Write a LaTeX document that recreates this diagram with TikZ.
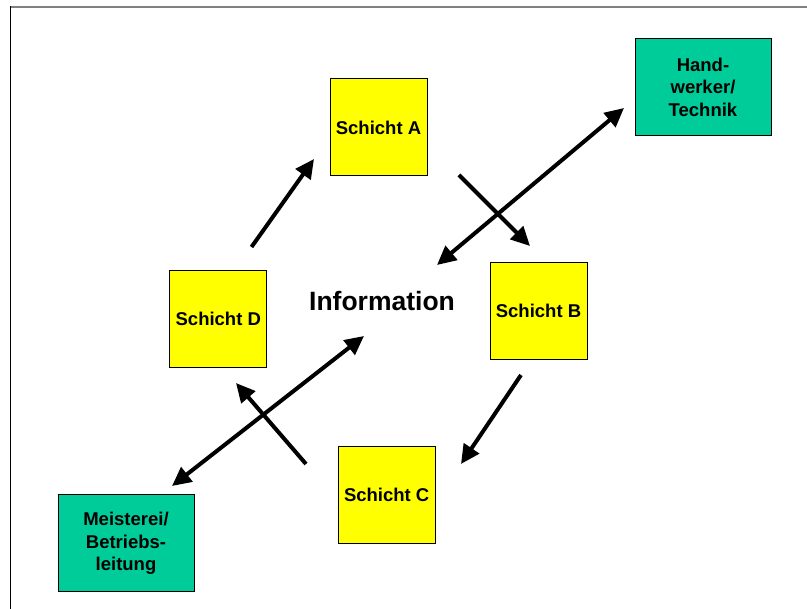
\documentclass[tikz,border=0pt]{standalone}
\usepackage{fontspec}
\setmainfont{Liberation Sans}
\usetikzlibrary{arrows.meta}
\definecolor{shiftyellow}{RGB}{255,255,0}
\definecolor{extgreen}{RGB}{0,204,153}
\tikzset{
  box/.style={draw=black, line width=1pt, inner sep=0pt, align=center,
    font=\fontsize{18.5}{22.5}\selectfont\bfseries},
  shiftbox/.style={box, fill=shiftyellow, minimum width=97pt, minimum height=97pt},
  extbox/.style={box, fill=extgreen, minimum width=136pt, minimum height=97pt},
  flow/.style={line width=4pt, -{Triangle[length=19pt,width=18pt]}},
  both/.style={line width=4pt, {Triangle[length=19pt,width=18pt]}-{Triangle[length=19pt,width=18pt]}}
}
\begin{document}
\begin{tikzpicture}[x=1pt,y=-1pt]
\useasboundingbox (0,0) rectangle (807,609);
\fill[white] (0,0) rectangle (807,609);
% frame
\draw[gray, line width=2pt] (10.5,7) -- (807,7);
\draw[black, line width=1.2pt] (10.5,6) -- (10.5,609);
% boxes
\node[shiftbox] (A) at (378.5,127.5) {Schicht A};
\node[shiftbox] (B) at (538.5,311) {Schicht B};
\node[shiftbox] (C) at (386.7,495.3) {Schicht C};
\node[shiftbox] (D) at (218.3,319.3) {Schicht D};
\node[extbox] (H) at (703,87) {Hand-\\werker/\\Technik};
\node[extbox] (M) at (126,543.5) {Meisterei/\\Betriebs-\\leitung};
\node[font=\fontsize{26.5}{30}\selectfont\bfseries, inner sep=0pt] (I) at (382,301) {Information};
% arrow end points
\coordinate (da0) at (251.5,247);
\coordinate (da1) at (314,159);
\coordinate (ab0) at (459,175);
\coordinate (ab1) at (530,246);
\coordinate (bc0) at (521,375);
\coordinate (bc1) at (461,464);
\coordinate (cd0) at (306,464);
\coordinate (cd1) at (236,383);
\coordinate (hi0) at (624,108);
\coordinate (hi1) at (437,265);
\coordinate (mi0) at (364,336);
\coordinate (mi1) at (172,486);
% connectors
\draw[flow] (da0) -- (da1);
\draw[flow] (ab0) -- (ab1);
\draw[flow] (bc0) -- (bc1);
\draw[flow] (cd0) -- (cd1);
\draw[both] (hi0) -- (hi1);
\draw[both] (mi0) -- (mi1);
\end{tikzpicture}
\end{document}
